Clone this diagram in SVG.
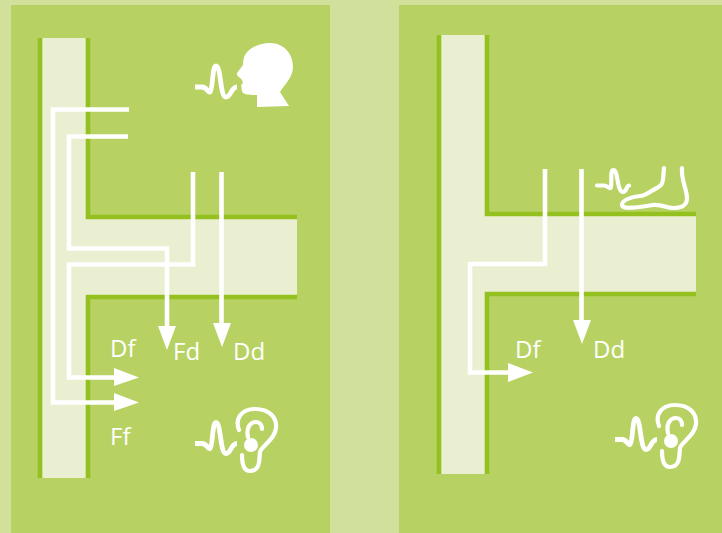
<svg xmlns="http://www.w3.org/2000/svg" width="722" height="533" viewBox="0 0 722 533">
<style>
.edge{fill:none;stroke:#94c11f;stroke-width:4.6}
.pale{fill:#e9efd0}
.w{fill:none;stroke:#fff;stroke-width:4.6}
.ic{fill:none;stroke:#fff;stroke-width:4.2;stroke-linecap:round;stroke-linejoin:round}
.icb{fill:none;stroke:#fff;stroke-width:4.8;stroke-linejoin:round}
.h{fill:#fff}
text{font-family:"Open Sans","Liberation Sans",sans-serif;font-size:24px;fill:#fff}
</style>
<defs>
<path id="wave" class="icb" d="M0 0H7C12 0 13 6 15 5C18 3 17 -21 21 -21C26 -21 25 10 31 10C36 10 36 0 42 0"/>
<g id="ear">
<path class="ic" d="M-12 -15C-16 -25 -11 -36 4 -36C19 -36 26 -27 25 -17C24 -5 11 0 9 7C8 13 10 26 -1 26C-8 26 -9 17 -9 10"/>
<path class="ic" d="M-3 -8C-5 -17 -1 -23 5 -23C9 -23 11 -20 11 -16"/>
<circle class="h" cx="0" cy="0" r="7"/>
</g>
</defs>
<rect width="722" height="533" fill="#d1e09a"/>
<g id="panel-left"><rect x="11" y="5" width="319" height="528" fill="#b7d262"/></g>
<g id="panel-right"><rect x="399" y="5" width="323" height="528" fill="#b7d262"/></g>

<g id="tube-left">
<rect class="pale" x="42" y="38" width="44" height="440"/>
<rect class="pale" x="86" y="219" width="211" height="76"/>
<path class="edge" d="M40 38V478"/>
<path class="edge" d="M88 38V217H297"/>
<path class="edge" d="M297 297H88V478"/>
</g>
<g id="tube-right">
<rect class="pale" x="441" y="35" width="44" height="439"/>
<rect class="pale" x="485" y="216" width="211" height="76"/>
<path class="edge" d="M439 35V474"/>
<path class="edge" d="M487 35V214H696"/>
<path class="edge" d="M696 294H487V474"/>
</g>

<g id="connectors">
<path class="w" d="M129 109.500H53V402.500H116"/>
<path class="h" d="M114 393L139 402.500L114 411Z"/>
<path class="w" d="M128 136.500H69V248.500H167V330"/>
<path class="h" d="M158 326H176L167 350Z"/>
<path class="w" d="M193 172V264.500H69V377.500H116"/>
<path class="h" d="M114 368L139 377.500L114 386Z"/>
<path class="w" d="M221.500 172V330"/>
<path class="h" d="M213 323H231L222 347Z"/>
<path class="w" d="M545 169V264H470V372.500H510"/>
<path class="h" d="M508 363L533 372.500L508 382Z"/>
<path class="w" d="M581.500 169V325"/>
<path class="h" d="M573 320H591L582 344Z"/>
</g>

<g id="speaker">
<use href="#wave" x="195" y="87"/>
<path class="h" d="M237 73L243 65C243 60 244 57 245 55C250 47 260 43 270 43C284 43 293 54 293 67C293 77 285 84 280 92L289 106L257 107V95C252 95 246 95 243 93C241 90 242 87 241 85L243 83L242 80C240 77 236 76 237 73Z"/>
</g>
<g id="ear-left"><use href="#wave" x="195" y="443.500"/><use href="#ear" x="251" y="445"/></g>
<g id="ear-right"><use href="#wave" x="615" y="439.500"/><use href="#ear" x="671" y="441"/></g>
<g id="foot">
<path class="ic" d="M597 185.500H604C609 186 610 190 611 187C612 180 610 170 613.500 170C618 170 617 192 623 192C627 192 626 186 629 185.500"/>
<path class="ic" d="M664 168C663 175 664 182 661 185C657 189 652 190 650 192C645 195 642 196 640 196C633 197 622 199 622 205C622 210 640 207 653 205C662 204 666 208 673 208C680 208 687 207 687 198C687 190 681 180 682 168"/>
</g>
<g id="labels">
<text x="110" y="357">Df</text>
<text x="173" y="360">Fd</text>
<text x="233" y="360">Dd</text>
<text x="110" y="445">Ff</text>
<text x="515" y="358">Df</text>
<text x="593" y="358">Dd</text>
</g>
</svg>
